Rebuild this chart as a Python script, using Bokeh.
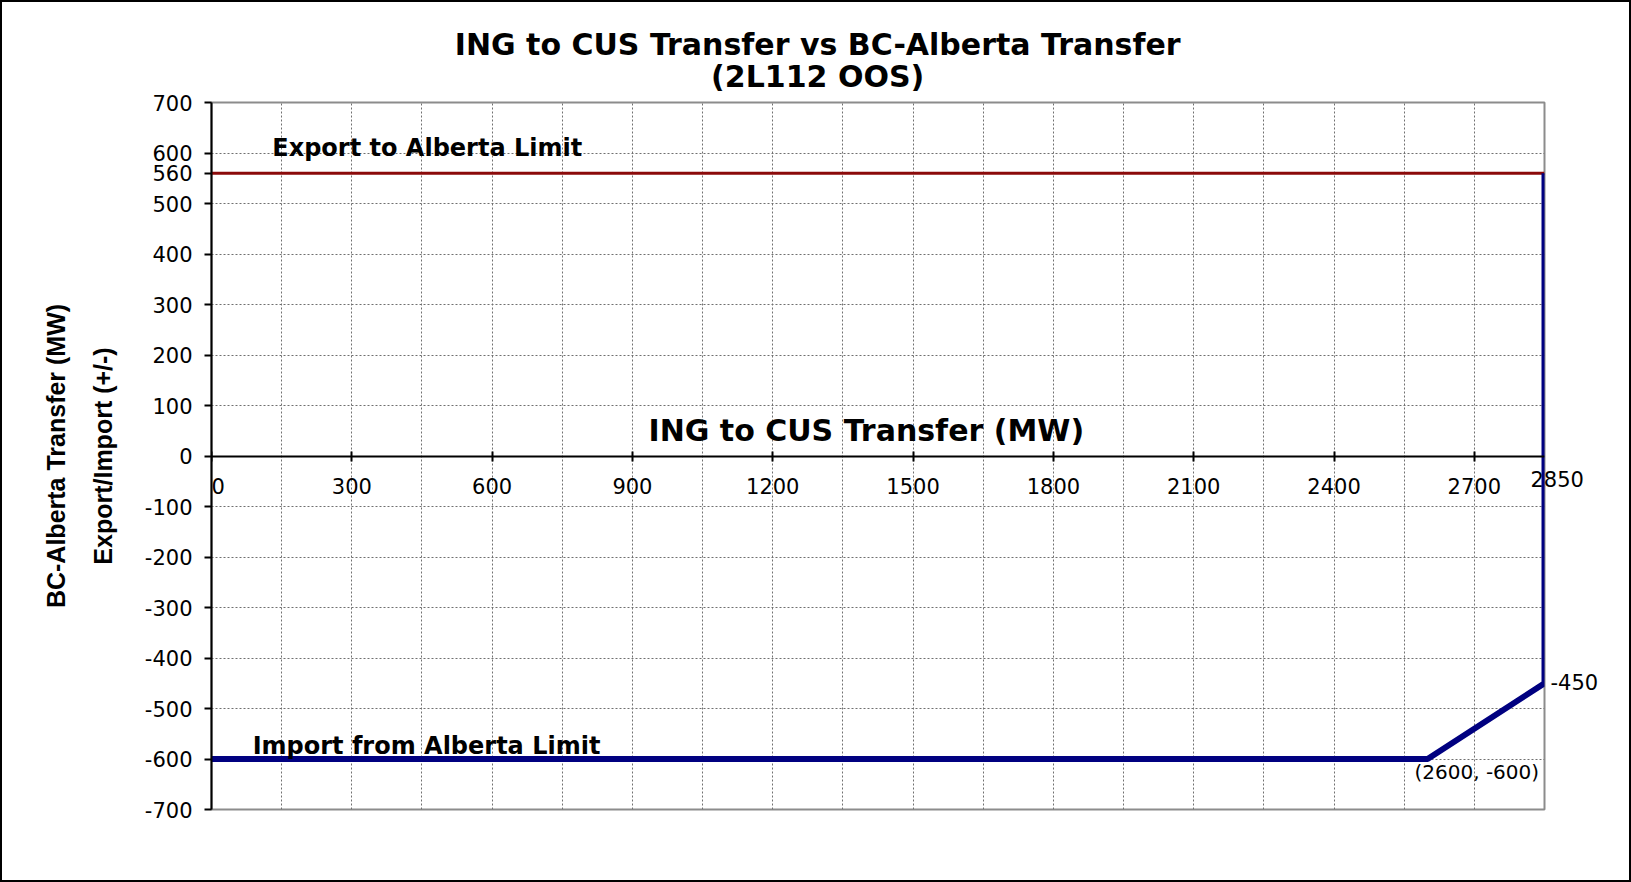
from bokeh.plotting import figure
from bokeh.models import Label, FixedTicker, Range1d, LinearAxis
from bokeh.embed import file_html
from bokeh.resources import INLINE

# ---- text ----
title_lines = ["ING to CUS Transfer vs BC-Alberta Transfer", "(2L112 OOS)"]
x_axis_title = "ING to CUS Transfer (MW)"
y_axis_title = ["BC-Alberta Transfer (MW)", "Export/Import (+/-)"]
export_label = "Export to Alberta Limit"
import_label = "Import from Alberta Limit"

# ---- data ----
export_x = [0, 2850]
export_y = [560, 560]
import_x = [0, 2600, 2850, 2850]
import_y = [-600, -600, -450, 560]

# point annotations
end_value = -450
end_label = "-450"
knee_label = "(2600, -600)"

# ---- ticks ----
x_ticks = [0, 300, 600, 900, 1200, 1500, 1800, 2100, 2400, 2700]
x_last = 2850
y_ticks = [-700, -600, -500, -400, -300, -200, -100, 0, 100, 200, 300, 400, 500, 560, 600, 700]
x_grid = [0, 150, 300, 450, 600, 750, 900, 1050, 1200, 1350, 1500, 1650, 1800,
          1950, 2100, 2250, 2400, 2550, 2700, 2850]
y_grid = [-700, -600, -500, -400, -300, -200, -100, 0, 100, 200, 300, 400, 500, 600, 700]

W, H = 1627, 878
FW, FH = 1333, 707
ML, MT = 209, 100

p = figure(frame_width=FW, frame_height=FH, output_backend="svg", toolbar_location=None,
           x_range=Range1d(0, 2850), y_range=Range1d(-700, 700),
           min_border_left=ML, min_border_top=MT, min_border_right=W - ML - FW,
           min_border_bottom=H - MT - FH)
p.background_fill_color = "white"
p.border_fill_color = "white"
p.outline_line_color = "#8c8c8c"
p.outline_line_width = 2
p.styles = {"border": "2px solid black"}

SMALL_FONT = "DejaVu Sans"
BIG_FONT = "DejaVu Sans"
NARROW = "Liberation Sans"

# grids
p.xgrid.ticker = FixedTicker(ticks=x_grid)
p.ygrid.ticker = FixedTicker(ticks=y_grid)
for g in (p.xgrid, p.ygrid):
    g.grid_line_color = "#707070"
    g.grid_line_dash = "2 2"
    g.grid_line_width = 1

# x axis crossing at y = 0
xa = p.xaxis[0]
xa.ticker = FixedTicker(ticks=x_ticks)
xa.major_label_overrides = {t: (str(t) if t != 0 else "\u20070") for t in x_ticks}
xa.fixed_location = 0
xa.axis_line_color = "black"
xa.axis_line_width = 2
xa.major_tick_in = 5
xa.major_tick_out = 5
xa.major_tick_line_width = 2
xa.minor_tick_line_color = None
xa.major_label_text_font = SMALL_FONT
xa.major_label_text_font_size = "21px"
xa.major_label_text_color = "black"
xa.major_label_standoff = 14

# y axis (inner line of the title)
ya = p.yaxis[0]
ya.ticker = FixedTicker(ticks=y_ticks)
ya.major_label_overrides = {t: str(t) for t in y_ticks}
ya.axis_line_color = "black"
ya.axis_line_width = 2
ya.major_tick_in = 0
ya.major_tick_out = 7
ya.major_tick_line_width = 2
ya.minor_tick_line_color = None
ya.major_label_text_font = SMALL_FONT
ya.major_label_text_font_size = "21px"
ya.major_label_text_color = "black"
ya.major_label_standoff = 12
ya.axis_label = y_axis_title[1]
ya.axis_label_text_font = NARROW
ya.axis_label_text_font_style = "bold"
ya.axis_label_text_font_size = "25px"
ya.axis_label_text_color = "black"
ya.axis_label_standoff = 25

# outer line of the y title
ya2 = LinearAxis(ticker=FixedTicker(ticks=[]), axis_line_color=None, major_tick_line_color=None,
                 minor_tick_line_color=None, major_label_standoff=0, major_tick_out=0,
                 axis_label=y_axis_title[0], axis_label_text_font=NARROW,
                 axis_label_text_font_style="bold", axis_label_text_font_size="25px",
                 axis_label_text_color="black", axis_label_standoff=16)
p.add_layout(ya2, "left")

# right-hand notes: end value and last x tick
y_of_last_x_label = -48
ra = LinearAxis(ticker=FixedTicker(ticks=[end_value, y_of_last_x_label]),
                major_label_overrides={end_value: "\u2007\u2008" + end_label,
                                       y_of_last_x_label: str(x_last)},
                axis_line_color=None, major_tick_line_color=None, minor_tick_line_color=None,
                major_tick_out=0, major_tick_in=0, major_label_standoff=-14,
                major_label_text_font=SMALL_FONT, major_label_text_font_size="21px",
                major_label_text_color="black")
p.add_layout(ra, "right")

# title lines, centred over x position title_x (inner line first)
title_x = 1296
for line, standoff in ((title_lines[1], 9), (title_lines[0], -6)):
    ta = LinearAxis(ticker=FixedTicker(ticks=[title_x]),
                    major_label_overrides={title_x: line},
                    axis_line_color=None, major_tick_line_color=None, minor_tick_line_color=None,
                    major_tick_out=0, major_tick_in=0, major_label_standoff=standoff,
                    major_label_text_font=BIG_FONT, major_label_text_font_style="bold",
                    major_label_text_font_size="30px", major_label_text_color="black")
    p.add_layout(ta, "above")

# series
p.line(export_x, export_y, line_color="#8b0a0a", line_width=3)
p.line(import_x, import_y, line_color="#000080", line_width=6)

# x axis title inside the plot
p.add_layout(Label(x=1400, y=50, text=x_axis_title, text_align="center", text_baseline="middle",
                   text_font=BIG_FONT, text_font_style="bold", text_font_size="30px",
                   text_color="black"))

# limit labels
p.add_layout(Label(x=130, y=609, text=export_label, text_align="left", text_baseline="middle",
                   text_font=BIG_FONT, text_font_style="bold", text_font_size="24px",
                   text_color="black"))
p.add_layout(Label(x=88, y=-575, text=import_label, text_align="left", text_baseline="middle",
                   text_font=BIG_FONT, text_font_style="bold", text_font_size="24px",
                   text_color="black"))

# knee note
p.add_layout(Label(x=2572, y=-625, text=knee_label, text_align="left", text_baseline="middle",
                   text_font=SMALL_FONT, text_font_size="20px", text_color="black"))

open("out.html", "w").write(file_html(p, INLINE))
